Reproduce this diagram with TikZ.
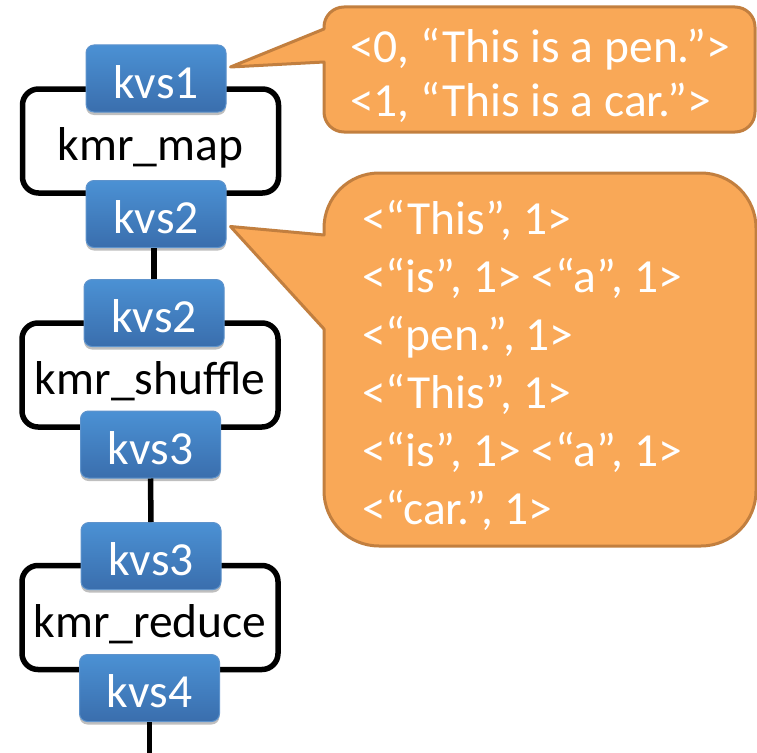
\documentclass[tikz,border=0pt]{standalone}
\usepackage{fontspec}
\setmainfont{Carlito}
\usetikzlibrary{calc,shadows}
\definecolor{bluetop}{HTML}{4B91D4}
\definecolor{bluebot}{HTML}{3A6EAD}
\definecolor{blueline}{HTML}{5E93CC}
\definecolor{orfill}{HTML}{F9A857}
\definecolor{orline}{HTML}{C27F3F}
\begin{document}
\begin{tikzpicture}[x=1pt,y=-1pt,
  font=\fontsize{47.5}{56}\selectfont,
  kvsbox/.style={rectangle, rounded corners=8pt, minimum width=140pt, minimum height=67pt,
    inner sep=0pt, top color=bluetop, bottom color=bluebot, draw=blueline, line width=1pt,
    text=white, text height=39pt, text depth=0pt,
    drop shadow={shadow xshift=0pt, shadow yshift=-3pt, opacity=0.25, fill=black}},
  procbox/.style={rectangle, rounded corners=16pt, draw=black, line width=5.5pt, fill=white,
    minimum width=256pt, minimum height=104pt, inner sep=0pt, text height=39pt, text depth=0pt},
  conn/.style={draw=black, line width=5.5pt},
  bubble/.style={fill=orfill, draw=orline, line width=3pt, line join=round},
  bubtext/.style={text=white, align=left, inner sep=0pt, anchor=base west}
]
\useasboundingbox (0,0) rectangle (757,752);

% process boxes
\node[procbox] (map) at (150.5,141) {kmr\_map};
\node[procbox] (shuffle) at (150,375) {kmr\_shuffle};
\node[procbox] (reduce) at (150,617.5) {kmr\_reduce};

% key-value stores
\node[kvsbox] (kvs1) at (156,78.5) {kvs1};
\node[kvsbox] (kvs2a) at (156,214) {kvs2};
\node[kvsbox] (kvs2b) at (154,313) {kvs2};
\node[kvsbox] (kvs3a) at (150.5,444.5) {kvs3};
\node[kvsbox] (kvs3b) at (151,556) {kvs3};
\node[kvsbox] (kvs4) at (149.5,688) {kvs4};

% connectors
\coordinate (bottomend) at (kvs4.south |- 0,760);
\draw[conn] ([xshift=-2pt]kvs2a.south) -- (kvs2b.north);
\draw[conn] (kvs3a.south) -- (kvs3b.north);
\draw[conn] (kvs4.south) -- (bottomend);

% callout 1
\coordinate (tip1) at ($(kvs1.east)+(4,-11.5)$);
\draw[bubble] (tip1) -- (324,29) -- (324,27) arc[start angle=180,end angle=270,radius=20]
  -- (735,7) arc[start angle=270,end angle=360,radius=20]
  -- (755,112) arc[start angle=0,end angle=90,radius=20]
  -- (344,132) arc[start angle=90,end angle=180,radius=20]
  -- (324,62) -- cycle;
\node[bubtext, font=\fontsize{47.5}{54}\selectfont] (b1text) at (350,116)
  {<0, “This is a pen.”>\\<1, “This is a car.”>};

% callout 2
\coordinate (tip2) at ($(kvs2a.east)+(4,12.5)$);
\draw[bubble] (tip2) -- (324,235) -- (324,228) arc[start angle=180,end angle=270,radius=55]
  -- (701,173) arc[start angle=270,end angle=360,radius=55]
  -- (756,491) arc[start angle=0,end angle=90,radius=55]
  -- (379,546) arc[start angle=90,end angle=180,radius=55]
  -- (324,329) -- cycle;
\node[bubtext, font=\fontsize{47.5}{58}\selectfont] (b2text) at (362,524)
  {<“This”, 1>\\<“is”, 1> <“a”, 1>\\<“pen.”, 1>\\<“This”, 1>\\<“is”, 1> <“a”, 1>\\<“car.”, 1>};
\end{tikzpicture}
\end{document}
